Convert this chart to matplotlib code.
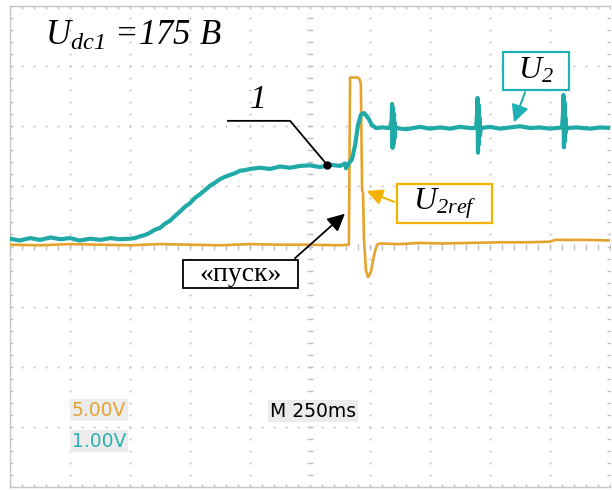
import matplotlib
matplotlib.use("Agg")
import matplotlib.pyplot as plt
from matplotlib.patches import Rectangle

plt.rcParams["mathtext.fontset"] = "custom"
plt.rcParams["mathtext.it"] = "Liberation Serif:italic"
plt.rcParams["mathtext.rm"] = "Liberation Serif:italic"

# time in ms (250 ms/div), level in screen divisions
u2_t = [0, 40, 85, 125, 170, 210, 250, 290, 335, 375, 420, 458, 500, 521, 542, 562,
        583, 604, 625, 646, 667, 688, 708, 729, 750, 771, 792, 813, 833, 854, 875,
        896, 917, 938, 958, 979, 1000, 1042, 1083, 1125, 1167, 1208, 1250, 1292,
        1333, 1375, 1396, 1400, 1408, 1425, 1438, 1450, 1462, 1475, 1492, 1508,
        1525, 1550, 1583, 1590, 1592, 1594, 1596, 1598, 1600, 1602, 1604, 1606,
        1610, 1650, 1708, 1750, 1792, 1833, 1875, 1917, 1942, 1946, 1948, 1950,
        1952, 1954, 1956, 1958, 1962, 2000, 2042, 2083, 2125, 2167, 2208, 2250,
        2300, 2304, 2306, 2308, 2310, 2312, 2314, 2316, 2320, 2360, 2417, 2460, 2508]
u2_v = [0.13, 0.10, 0.14, 0.11, 0.15, 0.12, 0.14, 0.10, 0.13, 0.11, 0.14, 0.12, 0.13,
        0.14, 0.17, 0.19, 0.23, 0.28, 0.31, 0.38, 0.43, 0.51, 0.58, 0.66, 0.72, 0.81,
        0.87, 0.94, 1.01, 1.06, 1.12, 1.16, 1.19, 1.22, 1.26, 1.27, 1.29, 1.31, 1.29,
        1.33, 1.31, 1.34, 1.35, 1.32, 1.36, 1.34, 1.38, 1.30, 1.36, 1.45, 1.69, 2.02,
        2.19, 2.22, 2.14, 2.02, 1.97, 1.98, 1.97, 2.10, 2.37, 1.64, 2.30, 1.70, 2.20,
        1.80, 2.05, 1.95, 1.97, 1.95, 1.99, 1.96, 1.98, 1.96, 1.99, 1.97, 1.97, 2.20,
        2.47, 1.56, 2.36, 1.70, 2.15, 1.85, 1.97, 1.99, 1.96, 1.98, 2.00, 1.97, 1.98,
        1.96, 1.98, 2.20, 2.52, 1.65, 2.40, 1.75, 2.15, 1.90, 1.97, 1.98, 1.96, 1.98,
        1.97]

ref_t = [0, 125, 250, 375, 500, 625, 750, 875, 1000, 1125, 1250, 1375, 1412, 1417,
         1450, 1458, 1462, 1467, 1471, 1475, 1483, 1492, 1504, 1517, 1529, 1542,
         1625, 1708, 1800, 1917, 2042, 2150, 2250, 2271, 2400, 2508]
ref_v = [0.03, 0.02, 0.04, 0.03, 0.02, 0.04, 0.03, 0.02, 0.04, 0.03, 0.03, 0.02, 0.03,
         2.81, 2.81, 2.77, 2.69, 0.94, 0.89, 0.11, -0.39, -0.51, -0.42, -0.14, 0.03,
         0.05, 0.04, 0.06, 0.05, 0.06, 0.07, 0.07, 0.08, 0.11, 0.11, 0.10]

teal = "#1faaa8"
orange = "#e6a32c"
grid_c = "#c0c0c0"

fig = plt.figure(figsize=(6.12, 4.9), dpi=100)
ax = fig.add_axes([10 / 612, 1 - 487 / 490, 600 / 612, 481 / 490])
ax.set_xlim(0, 2500)
ax.set_ylim(-4, 4)
ax.set_xticks([])
ax.set_yticks([])
for s in ax.spines.values():
    s.set_color("#c4c4c4")
    s.set_linewidth(1.0)
ax.spines["right"].set_visible(False)

# dotted graticule
dots_y = [-4 + 0.2 * i for i in range(41)]
dots_x = [50 * i for i in range(51)]
for k in range(1, 10):
    if k == 5:
        continue
    ax.plot([250 * k] * len(dots_y), dots_y, ls="none", marker="s", ms=1.3,
            color=grid_c, mew=0)
for k in range(-3, 4):
    if k == 0:
        continue
    ax.plot(dots_x, [k] * len(dots_x), ls="none", marker="s", ms=1.3,
            color=grid_c, mew=0)
# tick marks on border and centre lines
for xv in (0, 1250, 2500):
    ax.plot([xv] * len(dots_y), dots_y, ls="none", marker="_", ms=5,
            color=grid_c, mew=1.0)
for yv in (-4, 0, 4):
    ax.plot(dots_x, [yv] * len(dots_x), ls="none", marker="|", ms=5,
            color=grid_c, mew=1.0)

ax.plot(ref_t, ref_v, color=orange, lw=1.9, zorder=3)
ax.plot(u2_t, u2_v, color=teal, lw=3.0, zorder=4)

ax.text(146, 3.49, r"$U_{\mathit{dc1}}$ =175 B", fontsize=25, family="Liberation Serif",
        style="italic", va="center", ha="left")

# label 1 with leader
ax.text(1033, 2.44, "1", fontsize=24, family="Liberation Serif", style="italic",
        ha="center", va="center")
ax.plot([908, 1167, 1321], [2.09, 2.09, 1.36], color="black", lw=1.3, zorder=5)
ax.plot([1321], [1.36], "o", color="black", ms=5, zorder=6)

# U2 box
ax.add_patch(Rectangle((2054, 2.61), 275, 0.63, fill=True, fc="white", ec="#1fb0b8",
                       lw=1.6, zorder=6))
ax.text(2192, 2.93, r"$U_2$", fontsize=23, ha="center", va="center", zorder=7)
ax.annotate("", xy=(2096, 2.02), xytext=(2150, 2.61),
            arrowprops=dict(arrowstyle="-|>", color="#1fb0b8", lw=1.5, mutation_scale=26),
            zorder=6)

# U2ref box
ax.add_patch(Rectangle((1612, 0.39), 396, 0.65, fill=True, fc="white", ec="#f5b300",
                       lw=1.6, zorder=6))
ax.text(1810, 0.72, r"$U_{2ref}$", fontsize=23, ha="center", va="center", zorder=7)
ax.annotate("", xy=(1475, 0.94), xytext=(1612, 0.725),
            arrowprops=dict(arrowstyle="-|>", color="#f5b300", lw=1.5, mutation_scale=24),
            zorder=6)

# start box
ax.add_patch(Rectangle((721, -0.69), 479, 0.465, fill=True, fc="white", ec="black",
                       lw=1.3, zorder=6))
ax.text(960, -0.46, "«пуск»", fontsize=20, family="Liberation Serif", ha="center",
        va="center", zorder=7)
ax.annotate("", xy=(1404, 0.575), xytext=(1179, -0.225),
            arrowprops=dict(arrowstyle="-|>", color="black", lw=1.3, mutation_scale=26),
            zorder=6)

# scope readouts
box = dict(boxstyle="square,pad=0.08", fc="#ececec", ec="none")
ax.text(258, -2.725, "5.00V", fontsize=13.5, color="#e0a435", va="center", bbox=box)
ax.text(258, -3.24, "1.00V", fontsize=13.5, color="#2fb0b4", va="center", bbox=box)
ax.text(1083, -2.74, "M 250ms", fontsize=13.5, color="black", va="center", bbox=box)

fig.savefig("out.png", dpi=100)
